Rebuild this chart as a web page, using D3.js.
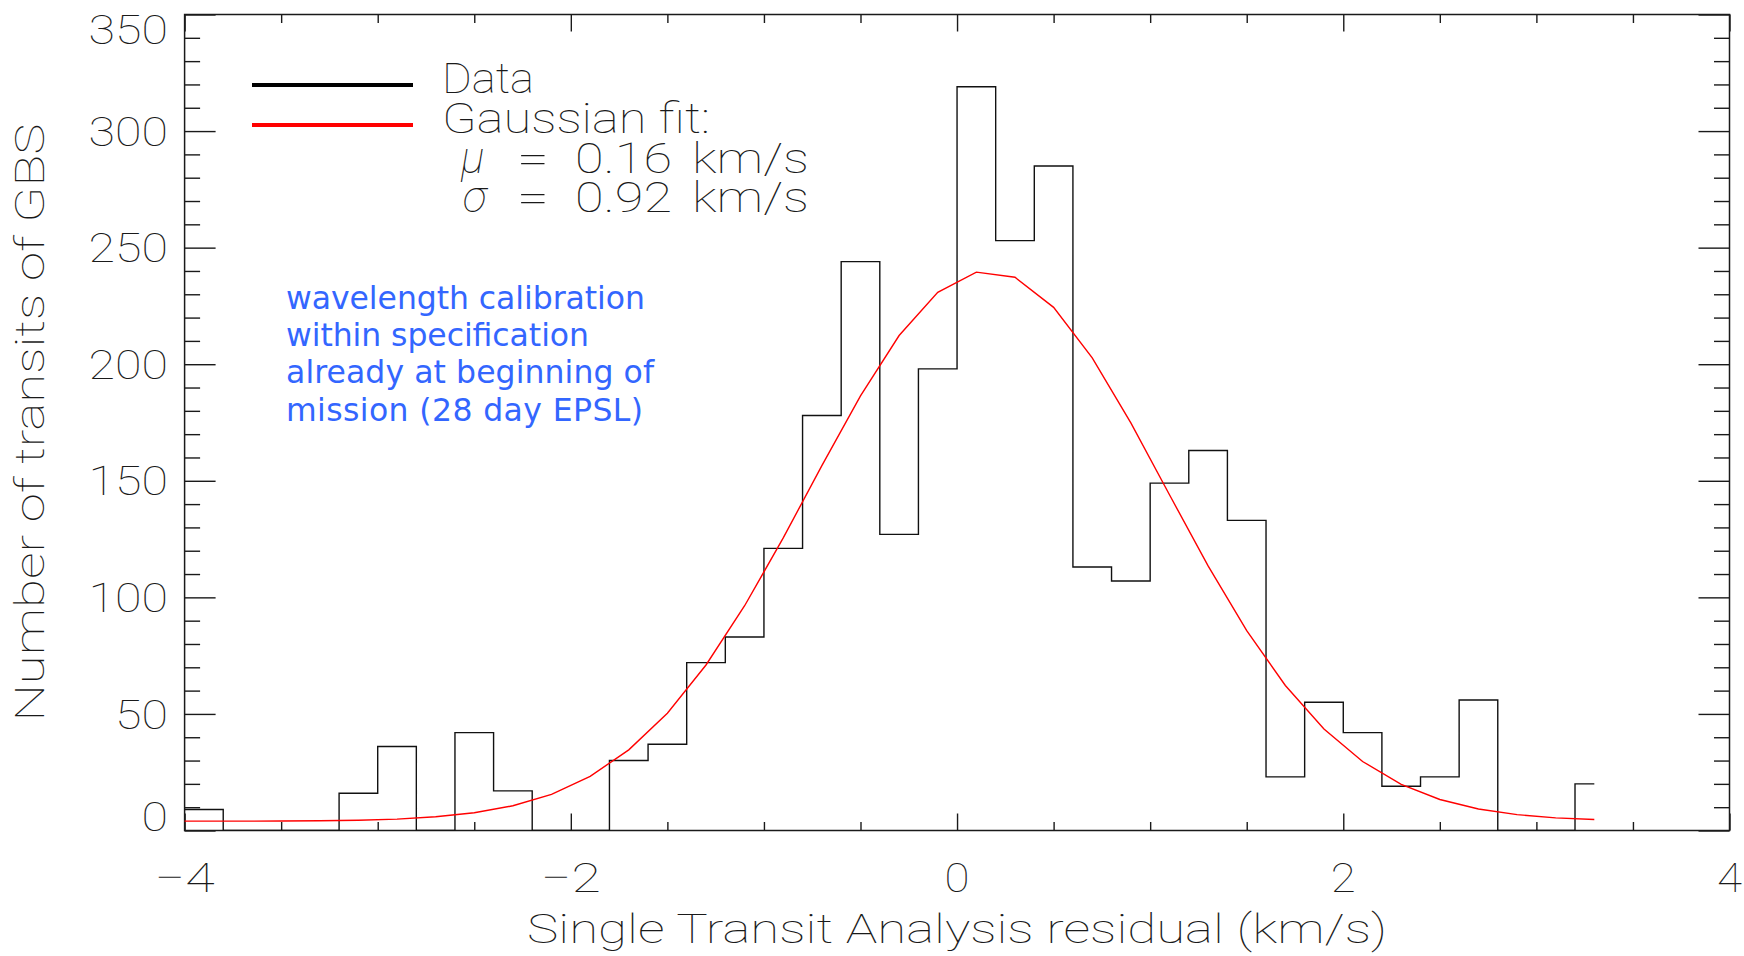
<!DOCTYPE html>
<html>
<head>
<meta charset="utf-8">
<script src="https://cdn.jsdelivr.net/npm/d3@7"></script>
<style>
  html, body { margin: 0; padding: 0; background: #fff; }
  svg { display: block; }
</style>
</head>
<body>
<svg id="chart" width="1744" height="956"></svg>
<script>
// Histogram of single-transit residuals: lower bin edges (km/s) and counts
const binLower = [-4.0, -3.8, -3.6, -3.4, -3.2, -3.0, -2.8, -2.6, -2.4, -2.2,
                  -2.0, -1.8, -1.6, -1.4, -1.2, -1.0, -0.8, -0.6, -0.4, -0.2,
                   0.0,  0.2,  0.4,  0.6,  0.8,  1.0,  1.2,  1.4,  1.6,  1.8,
                   2.0,  2.2,  2.4,  2.6,  2.8,  3.0,  3.2];
const counts   = [9, 0, 0, 0, 16, 36, 0, 42, 17, 0,
                  0, 30, 37, 72, 83, 121, 178, 244, 127, 198,
                  319, 253, 285, 113, 107, 149, 163, 133, 23, 55,
                  42, 19, 23, 56, 0, 0, 20];
const binWidth = 0.2;

// Gaussian fit evaluated at the bin centres
const fitCentres = [-4.1, -3.9, -3.7, -3.5, -3.3, -3.1, -2.9, -2.7, -2.5, -2.3,
                    -2.1, -1.9, -1.7, -1.5, -1.3, -1.1, -0.9, -0.7, -0.5, -0.3,
                    -0.1,  0.1,  0.3,  0.5,  0.7,  0.9,  1.1,  1.3,  1.5,  1.7,
                     1.9,  2.1,  2.3,  2.5,  2.7,  2.9,  3.1,  3.3];
const fitValues  = [4.0, 4.0, 4.0, 4.1, 4.2, 4.4, 4.9, 5.9, 7.6, 10.6,
                    15.5, 23.2, 34.6, 50.3, 71.0, 96.4, 125.5, 156.5, 186.4, 212.3,
                    230.8, 239.5, 237.3, 224.4, 202.7, 174.8, 144.0, 113.5, 85.7, 62.2,
                    43.5, 29.6, 19.8, 13.3, 9.2, 6.8, 5.4, 4.7];

// Axis ticks and labels
const xMajorTicks = [-4, -2, 0, 2, 4];
const xTickLabels = ["\u22124", "\u22122", "0", "2", "4"];
const yMajorTicks = [0, 50, 100, 150, 200, 250, 300, 350];
const yTickLabels = ["0", "50", "100", "150", "200", "250", "300", "350"];

const xTitle = "Single Transit Analysis residual (km/s)";
const yTitle = "Number of transits of GBS";

// Legend entries and fit parameters
const legendLabels = ["Data", "Gaussian fit:"];
const legendColours = ["#000000", "#ff0000"];
const fitSymbols = ["\u03bc", "\u03c3"];
const fitNumbers = ["0.16", "0.92"];
const fitUnit = "km/s";

// Annotation
const noteLines = ["wavelength calibration",
                   "within specification",
                   "already at beginning of",
                   "mission (28 day EPSL)"];
const noteWidths = [359, 303, 368, 357];

// ---------------------------------------------------------------------------
const plot = { left: 184.6, right: 1729.5, top: 14.5, bottom: 830.5 };
const svg = d3.select("#chart");
svg.append("rect").attr("width", 1744).attr("height", 956).attr("fill", "#fff");

const x = d3.scaleLinear().domain([-4, 4]).range([plot.left, plot.right]);
const y = d3.scaleLinear().domain([0, 350]).range([plot.bottom, plot.top]);

const lineFont = "Roboto, Lato, 'DejaVu Sans', sans-serif";
const ink = "#1a1a1a";

svg.append("defs").append("clipPath").attr("id", "plot-clip")
  .append("rect")
  .attr("x", plot.left).attr("y", plot.top)
  .attr("width", plot.right - plot.left).attr("height", plot.bottom - plot.top);

// Tick marks on all four sides, pointing inwards
const xMinor = d3.range(-4, 4.001, 0.5).filter(v => !xMajorTicks.includes(v));
const yMinor = d3.range(0, 350.001, 10).filter(v => !yMajorTicks.includes(v));
const xMajLen = 17, xMinLen = 8.5, yMajLen = 31, yMinLen = 15.5;

function drawAxis(axis, tx, ty) {
  const g = svg.append("g").attr("transform", `translate(${tx},${ty})`).call(axis);
  g.select(".domain").remove();
  g.selectAll(".tick line").attr("stroke", ink).attr("stroke-width", 1.4);
  g.selectAll(".tick text").remove();
  return g;
}
drawAxis(d3.axisBottom(x).tickValues(xMajorTicks).tickSize(-xMajLen).tickFormat(""), 0, plot.bottom);
drawAxis(d3.axisBottom(x).tickValues(xMinor).tickSize(-xMinLen).tickFormat(""), 0, plot.bottom);
drawAxis(d3.axisTop(x).tickValues(xMajorTicks).tickSize(-xMajLen).tickFormat(""), 0, plot.top);
drawAxis(d3.axisTop(x).tickValues(xMinor).tickSize(-xMinLen).tickFormat(""), 0, plot.top);
drawAxis(d3.axisLeft(y).tickValues(yMajorTicks).tickSize(-yMajLen).tickFormat(""), plot.left, 0);
drawAxis(d3.axisLeft(y).tickValues(yMinor).tickSize(-yMinLen).tickFormat(""), plot.left, 0);
drawAxis(d3.axisRight(y).tickValues(yMajorTicks).tickSize(-yMajLen).tickFormat(""), plot.right, 0);
drawAxis(d3.axisRight(y).tickValues(yMinor).tickSize(-yMinLen).tickFormat(""), plot.right, 0);

// Frame
svg.append("rect")
  .attr("x", plot.left).attr("y", plot.top)
  .attr("width", plot.right - plot.left).attr("height", plot.bottom - plot.top)
  .attr("fill", "none").attr("stroke", ink).attr("stroke-width", 1.5);

// Tick labels
const labelSize = 41, capH = 29.3;
svg.append("g").selectAll("text").data(yMajorTicks).join("text")
  .attr("x", 168)
  .attr("y", (d, i) => {
    if (i === 0) return y(d);                             // bottom label sits on the axis
    if (i === yMajorTicks.length - 1) return y(d) + capH; // top label hangs from the frame
    return y(d) + capH / 2;
  })
  .attr("text-anchor", "end")
  .attr("font-family", lineFont).attr("font-weight", 100)
  .attr("font-size", labelSize).attr("fill", ink)
  .attr("textLength", (d, i) => yTickLabels[i].length * 26.5)
  .attr("lengthAdjust", "spacingAndGlyphs")
  .text((d, i) => yTickLabels[i]);

svg.append("g").selectAll("text").data(xMajorTicks).join("text")
  .attr("x", d => x(d))
  .attr("y", 891.5)
  .attr("text-anchor", "middle")
  .attr("font-family", lineFont).attr("font-weight", 100)
  .attr("font-size", labelSize).attr("fill", ink)
  .attr("textLength", (d, i) => xTickLabels[i].length === 2 ? 60 : 25)
  .attr("lengthAdjust", "spacingAndGlyphs")
  .text((d, i) => xTickLabels[i]);

// Axis titles
svg.append("text")
  .attr("x", (plot.left + plot.right) / 2).attr("y", 943)
  .attr("text-anchor", "middle")
  .attr("font-family", lineFont).attr("font-weight", 100)
  .attr("font-size", labelSize).attr("fill", ink)
  .attr("textLength", 860).attr("lengthAdjust", "spacingAndGlyphs")
  .text(xTitle);

svg.append("text")
  .attr("transform", `translate(43.5,${(plot.top + plot.bottom) / 2}) rotate(-90)`)
  .attr("text-anchor", "middle")
  .attr("font-family", lineFont).attr("font-weight", 100)
  .attr("font-size", 40).attr("fill", ink)
  .attr("textLength", 598).attr("lengthAdjust", "spacingAndGlyphs")
  .text(yTitle);

// Histogram (step outline, last step is half a bin wide)
const stepPoints = binLower.map((b, i) => [b, counts[i]]);
stepPoints.push([binLower[binLower.length - 1] + binWidth / 2, counts[counts.length - 1]]);
const stepLine = d3.line().x(d => x(d[0])).y(d => y(d[1])).curve(d3.curveStepAfter);
svg.append("path")
  .attr("clip-path", "url(#plot-clip)")
  .attr("d", stepLine(stepPoints))
  .attr("fill", "none").attr("stroke", "#111").attr("stroke-width", 1.4);

// Gaussian fit
const fitLine = d3.line().x(d => x(d[0])).y(d => y(d[1]));
svg.append("path")
  .attr("clip-path", "url(#plot-clip)")
  .attr("d", fitLine(fitCentres.map((c, i) => [c, fitValues[i]])))
  .attr("fill", "none").attr("stroke", "#ff0000").attr("stroke-width", 1.4);

// Legend: sample lines, then one text block holding labels and fit parameters
const legendRowY = [93.3, 133.3];
legendLabels.forEach((lab, i) => {
  svg.append("line")
    .attr("x1", 252).attr("x2", 413)
    .attr("y1", legendRowY[i] - 8.3).attr("y2", legendRowY[i] - 8.3)
    .attr("stroke", legendColours[i]).attr("stroke-width", 4);
});

const legendText = svg.append("text")
  .attr("font-family", lineFont).attr("font-weight", 100)
  .attr("font-size", 42).attr("fill", ink);
legendLabels.forEach((lab, i) => {
  legendText.append("tspan")
    .attr("x", 442).attr("y", legendRowY[i])
    .attr("textLength", i === 0 ? 92 : 268).attr("lengthAdjust", "spacingAndGlyphs")
    .text(lab);
});
const paramRowY = [173, 212];
fitSymbols.forEach((sym, i) => {
  legendText.append("tspan")
    .attr("x", i === 0 ? 461 : 463).attr("y", paramRowY[i])
    .attr("font-style", "italic").attr("font-weight", 100)
    .attr("font-size", 44)
    .text(sym);
  legendText.append("tspan")
    .attr("x", 517).attr("y", paramRowY[i])
    .attr("textLength", 32).attr("lengthAdjust", "spacingAndGlyphs")
    .text("=");
  legendText.append("tspan")
    .attr("x", 575).attr("y", paramRowY[i])
    .attr("textLength", 97).attr("lengthAdjust", "spacingAndGlyphs")
    .text(fitNumbers[i]);
  legendText.append("tspan")
    .attr("x", 692).attr("y", paramRowY[i])
    .attr("textLength", 117).attr("lengthAdjust", "spacingAndGlyphs")
    .text(fitUnit);
});

// Annotation text (one block, four lines)
const note = svg.append("text")
  .attr("font-family", "'DejaVu Sans', Verdana, sans-serif")
  .attr("font-size", 31.5)
  .attr("fill", "#3366ff");
noteLines.forEach((line, i) => {
  note.append("tspan")
    .attr("x", 286).attr("y", 309 + i * 37.2)
    .attr("textLength", noteWidths[i]).attr("lengthAdjust", "spacing")
    .text(line);
});
</script>
</body>
</html>
